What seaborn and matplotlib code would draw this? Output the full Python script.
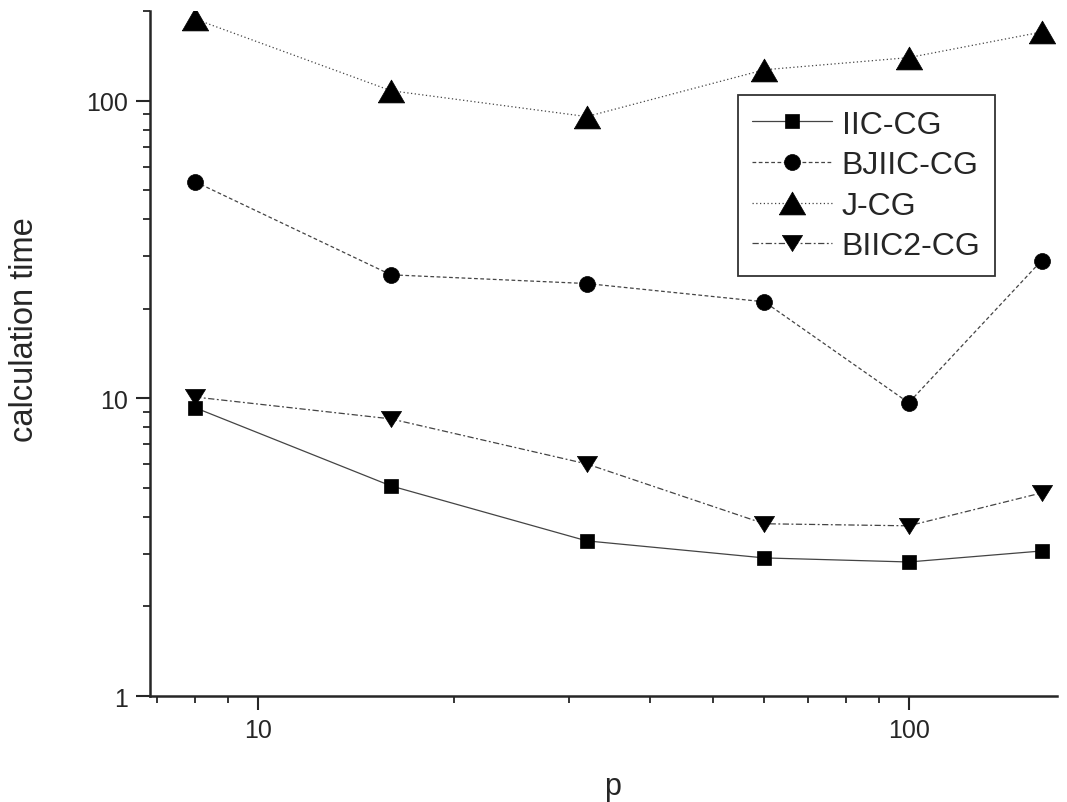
import matplotlib
matplotlib.use('Agg')
import matplotlib.pyplot as plt
import seaborn as sns
import pandas as pd
from matplotlib.ticker import LogLocator, NullFormatter, FixedLocator, FixedFormatter

p = [8, 16, 32, 60, 100, 160]
iic_cg = [9.3, 5.08, 3.32, 2.91, 2.82, 3.07]
bjiic_cg = [53.4, 26.0, 24.3, 21.1, 9.66, 29.0]
j_cg = [188, 108, 88.4, 127, 139.5, 170]
biic2_cg = [10.1, 8.53, 6.02, 3.79, 3.73, 4.81]

names = ['IIC-CG', 'BJIIC-CG', 'J-CG', 'BIIC2-CG']
series = [iic_cg, bjiic_cg, j_cg, biic2_cg]

# Origin-like markers: equilateral up triangle, flatter down triangle
tri_up = [(-1, -0.866), (1, -0.866), (0, 0.866), (-1, -0.866)]
tri_down = [(-1, 0.8), (1, 0.8), (0, -0.8), (-1, 0.8)]
markers = ['s', 'o', tri_up, tri_down]
msizes = [10, 11.5, 19, 14.5]
dashes = [(None, None), (3, 2), (1, 2), (5, 2, 1.5, 2)]

sns.set_style('ticks')
plt.rcParams['font.family'] = ['Liberation Sans', 'DejaVu Sans']

fig = plt.figure(figsize=(10.67, 8.03), dpi=100)
ax = fig.add_axes([0.1406, 0.132, 0.85, 0.853])

for name, vals, m, ms, d in zip(names, series, markers, msizes, dashes):
    df = pd.DataFrame({'p': p, 'time': vals})
    sns.lineplot(data=df, x='p', y='time', ax=ax, color='#444444',
                 linewidth=0.9, marker=m, markersize=ms,
                 markerfacecolor='black', markeredgecolor='black',
                 markeredgewidth=0.5, label=name)
    l = ax.get_lines()[-1]
    if d[0] is not None:
        l.set_dashes(d)

ax.set_xscale('log')
ax.set_yscale('log')
ax.set_xlim(6.82, 169)
ax.set_ylim(1, 200)

ax.xaxis.set_major_locator(FixedLocator([10, 100]))
ax.xaxis.set_major_formatter(FixedFormatter(['10', '100']))
ax.xaxis.set_minor_locator(LogLocator(base=10, subs=range(2, 10)))
ax.xaxis.set_minor_formatter(NullFormatter())
ax.yaxis.set_major_locator(FixedLocator([1, 10, 100]))
ax.yaxis.set_major_formatter(FixedFormatter(['1', '10', '100']))
ax.yaxis.set_minor_locator(LogLocator(base=10, subs=range(2, 10)))
ax.yaxis.set_minor_formatter(NullFormatter())

ax.tick_params(which='major', length=10, width=1.5, labelsize=18, pad=6, direction='out')
ax.tick_params(which='minor', length=5, width=1.3, direction='out')

for s in ['top', 'right']:
    ax.spines[s].set_visible(False)
for s in ['left', 'bottom']:
    ax.spines[s].set_linewidth(1.8)

ax.set_xlabel('p', fontsize=22)
ax.set_ylabel('calculation time', fontsize=23.5)
ax.xaxis.set_label_coords(0.510, -0.110)
ax.yaxis.set_label_coords(-0.121, 0.536)

leg = ax.legend(loc='upper left', bbox_to_anchor=(0.648, 0.877), fontsize=23,
                frameon=True, fancybox=False, edgecolor='black',
                handlelength=2.5, borderpad=0.45, labelspacing=0.33,
                handletextpad=0.3, borderaxespad=0)
leg.get_frame().set_linewidth(1.3)

fig.savefig('out.png', dpi=100)
